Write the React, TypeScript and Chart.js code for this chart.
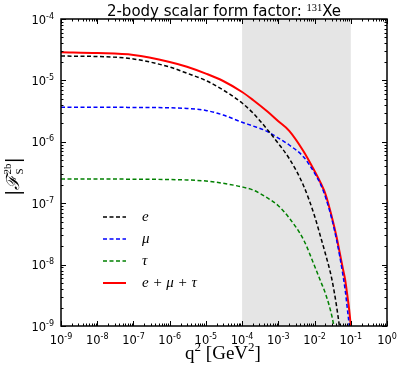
import React, { useEffect, useRef } from "react";
import { Chart, registerables } from "chart.js";
Chart.register(...registerables);

// momentum transfer grid q^2 [GeV^2]
const q2 = [1e-9, 1e-8, 1e-7, 1e-6, 3e-6, 1e-5, 3e-5, 1e-4, 2e-4, 5e-4, 1e-3, 2e-3, 5e-3, 1e-2, 1.5e-2, 2e-2, 3e-2, 4e-2, 5e-2, 6e-2, 7e-2, 8e-2, 9e-2, 1e-1, 1.1e-1];

// |F_S^2b| per channel
const formE = [2.49e-5, 2.45e-5, 2.23e-5, 1.65e-5, 1.31e-5, 9.95e-6, 6.98e-6, 4.28e-6, 2.94e-6, 1.58e-6, 9.38e-7, 5.34e-7, 1.91e-7, 6.2e-8, 2.71e-8, 1.49e-8, 5.82e-9, 2.2e-9, 8.6e-10, 3.4e-10];
const formMu = [3.65e-6, 3.65e-6, 3.63e-6, 3.58e-6, 3.49e-6, 3.24e-6, 2.73e-6, 2.08e-6, 1.81e-6, 1.47e-6, 1.15e-6, 8.87e-7, 5.65e-7, 3.1e-7, 1.97e-7, 1.26e-7, 5.53e-8, 2.61e-8, 1.33e-8, 7.03e-9, 3.86e-9, 1.96e-9, 1.04e-9, 4.9e-10];
const formTau = [2.48e-7, 2.48e-7, 2.46e-7, 2.43e-7, 2.39e-7, 2.3e-7, 2.11e-7, 1.84e-7, 1.64e-7, 1.22e-7, 9.1e-8, 5.74e-8, 2.52e-8, 9.5e-9, 5.2e-9, 3.38e-9, 1.46e-9, 5.9e-10];
const formSum = [2.87e-5, 2.79e-5, 2.6e-5, 2.0e-5, 1.67e-5, 1.29e-5, 9.78e-6, 6.47e-6, 4.8e-6, 3.11e-6, 2.16e-6, 1.51e-6, 6.95e-7, 3.34e-7, 2.09e-7, 1.41e-7, 5.96e-8, 2.92e-8, 1.52e-8, 8.8e-9, 5.61e-9, 3.2e-9, 1.89e-9, 1.0e-9, 4.9e-10];

const seriesLabels = ["e", "μ", "τ", "e + μ + τ"];
const seriesColors = ["#000000", "#0000ff", "#008000", "#ff0000"];

const xDecades = [-9, -8, -7, -6, -5, -4, -3, -2, -1, 0];
const yDecades = [-9, -8, -7, -6, -5, -4];
const shadeFrom = 1e-4;
const shadeTo = 1e-1;

const titleMain = "2-body scalar form factor: ";
const titleIso = "131";
const titleElem = "Xe";

type Run = { t: string; font: string; dy?: number; stackNext?: boolean };

function runsWidth(ctx: CanvasRenderingContext2D, runs: Run[]) {
  let w = 0;
  let i = 0;
  while (i < runs.length) {
    const r = runs[i];
    ctx.font = r.font;
    let rw = ctx.measureText(r.t).width;
    if (r.stackNext && i + 1 < runs.length) {
      ctx.font = runs[i + 1].font;
      rw = Math.max(rw, ctx.measureText(runs[i + 1].t).width);
      i++;
    }
    w += rw;
    i++;
  }
  return w;
}

function drawRuns(ctx: CanvasRenderingContext2D, runs: Run[], x: number, y: number, align: "left" | "center" | "right") {
  const w = runsWidth(ctx, runs);
  let cx = align === "left" ? x : align === "center" ? x - w / 2 : x - w;
  ctx.textAlign = "left";
  ctx.textBaseline = "alphabetic";
  let i = 0;
  while (i < runs.length) {
    const r = runs[i];
    ctx.font = r.font;
    ctx.fillText(r.t, cx, y + (r.dy || 0));
    let rw = ctx.measureText(r.t).width;
    if (r.stackNext && i + 1 < runs.length) {
      const r2 = runs[i + 1];
      ctx.font = r2.font;
      ctx.fillText(r2.t, cx, y + (r2.dy || 0));
      rw = Math.max(rw, ctx.measureText(r2.t).width);
      i++;
    }
    cx += rw;
    i++;
  }
}

function powLabel(e: number): Run[] {
  return [
    { t: "10", font: '11.5px "DejaVu Sans"' },
    { t: e === 0 ? "0" : "-" + String(-e), font: '8px "DejaVu Sans"', dy: -5 },
  ];
}

const decorPlugin = {
  id: "decor",
  beforeDatasetsDraw(chart: any) {
    const { ctx, chartArea: a, scales } = chart;
    const x0 = scales.x.getPixelForValue(shadeFrom);
    const x1 = scales.x.getPixelForValue(shadeTo);
    ctx.save();
    ctx.fillStyle = "#e5e5e5";
    ctx.fillRect(x0, a.top, x1 - x0, a.bottom - a.top);
    ctx.restore();
  },
  afterDraw(chart: any) {
    const { ctx, chartArea: a, scales } = chart;
    const xs = scales.x;
    const ys = scales.y;
    ctx.save();
    ctx.strokeStyle = "#000";
    ctx.lineWidth = 1;
    const majL = 5;
    const minL = 2.5;
    for (let i = 0; i < xDecades.length; i++) {
      const e = xDecades[i];
      for (let k = 1; k <= 9; k++) {
        if (k > 1 && e === xDecades[xDecades.length - 1]) break;
        const v = k * Math.pow(10, e);
        const px = Math.round(xs.getPixelForValue(v)) + 0.5;
        const L = k === 1 ? majL : minL;
        ctx.beginPath();
        ctx.moveTo(px, a.bottom);
        ctx.lineTo(px, a.bottom - L);
        ctx.moveTo(px, a.top);
        ctx.lineTo(px, a.top + L);
        ctx.stroke();
      }
    }
    for (let i = 0; i < yDecades.length; i++) {
      const e = yDecades[i];
      for (let k = 1; k <= 9; k++) {
        if (k > 1 && e === yDecades[yDecades.length - 1]) break;
        const v = k * Math.pow(10, e);
        const py = Math.round(ys.getPixelForValue(v)) + 0.5;
        const L = k === 1 ? majL : minL;
        ctx.beginPath();
        ctx.moveTo(a.left, py);
        ctx.lineTo(a.left + L, py);
        ctx.moveTo(a.right, py);
        ctx.lineTo(a.right - L, py);
        ctx.stroke();
      }
    }
    ctx.lineWidth = 1.5;
    ctx.strokeRect(a.left, a.top, a.right - a.left, a.bottom - a.top);

    ctx.fillStyle = "#000";
    for (const e of xDecades) {
      const px = xs.getPixelForValue(Math.pow(10, e));
      drawRuns(ctx, powLabel(e), px, a.bottom + 18, "center");
    }
    for (const e of yDecades) {
      const py = ys.getPixelForValue(Math.pow(10, e));
      drawRuns(ctx, powLabel(e), a.left - 7, py + 4.5, "right");
    }
    // x title
    drawRuns(
      ctx,
      [
        { t: "q", font: '19px "Liberation Serif"' },
        { t: "2", font: '13px "Liberation Serif"', dy: -8 },
        { t: " [GeV", font: '19px "Liberation Serif"' },
        { t: "2", font: '13px "Liberation Serif"', dy: -8 },
        { t: "]", font: '19px "Liberation Serif"' },
      ],
      (a.left + a.right) / 2 - 1,
      a.bottom + 33,
      "center"
    );
    // y title (rotated)
    ctx.save();
    ctx.translate(13, (a.top + a.bottom) / 2 + 4);
    ctx.rotate(-Math.PI / 2);
    drawRuns(
      ctx,
      [
        { t: "|", font: '19px "DejaVu Serif"' },
        { t: "ℱ", font: 'italic 18px "DejaVu Serif"' },
        { t: "2b", font: '11px "Liberation Serif"', dy: -8, stackNext: true },
        { t: "S", font: '11px "Liberation Serif"', dy: 4 },
        { t: "|", font: '19px "DejaVu Serif"' },
      ],
      0,
      6,
      "center"
    );
    ctx.restore();
    // title
    drawRuns(
      ctx,
      [
        { t: titleMain, font: '15px "DejaVu Sans"' },
        { t: titleIso, font: '10.5px "Liberation Serif"', dy: -5 },
        { t: titleElem, font: '15px "DejaVu Sans"' },
      ],
      (a.left + a.right) / 2,
      15.5,
      "center"
    );
    // legend
    const ds = chart.data.datasets;
    const lx0 = xs.left + 42;
    const ly0 = ys.top + 198;
    for (let i = 0; i < ds.length; i++) {
      const d = ds[i];
      const y = ly0 + i * 22;
      ctx.save();
      ctx.strokeStyle = d.borderColor;
      ctx.lineWidth = d.borderWidth;
      ctx.setLineDash(d.borderDash || []);
      ctx.beginPath();
      ctx.moveTo(lx0, y);
      ctx.lineTo(lx0 + 23, y);
      ctx.stroke();
      ctx.restore();
      ctx.font = 'italic 15px "Liberation Serif"';
      ctx.textAlign = "left";
      ctx.textBaseline = "alphabetic";
      ctx.fillStyle = "#000";
      ctx.fillText(d.label, lx0 + 39, y + 4);
    }
    ctx.restore();
  },
};

function series(vals: number[]) {
  return vals.map((v, i) => ({ x: q2[i], y: v }));
}

export default function App() {
  const ref = useRef<HTMLCanvasElement | null>(null);
  useEffect(() => {
    if (!ref.current) return;
    const sets = [formE, formMu, formTau, formSum];
    const chart = new Chart(ref.current, {
      type: "line",
      data: {
        datasets: sets.map((s, i) => ({
          label: seriesLabels[i],
          data: series(s),
          borderColor: seriesColors[i],
          backgroundColor: seriesColors[i],
          borderWidth: i === 3 ? 2 : 1.5,
          borderDash: i === 3 ? [] : [4, 2.5],
          pointRadius: 0,
          fill: false,
          cubicInterpolationMode: "monotone" as const,
        })),
      },
      options: {
        animation: false,
        responsive: false,
        parsing: false as any,
        layout: { padding: { left: 61, right: 20, top: 19, bottom: 60 } },
        plugins: { legend: { display: false }, tooltip: { enabled: false }, title: { display: false } },
        scales: {
          x: { type: "logarithmic", min: 1e-9, max: 1, display: false },
          y: { type: "logarithmic", min: 1e-9, max: 1e-4, display: false },
        },
      },
      plugins: [decorPlugin],
    });
    return () => chart.destroy();
  }, []);
  return (
    <div style={{ position: "absolute", left: 0, top: 0, width: 407, height: 386, background: "#fff" }}>
      <canvas ref={ref} width={407} height={386} style={{ width: 407, height: 386 }} />
    </div>
  );
}
